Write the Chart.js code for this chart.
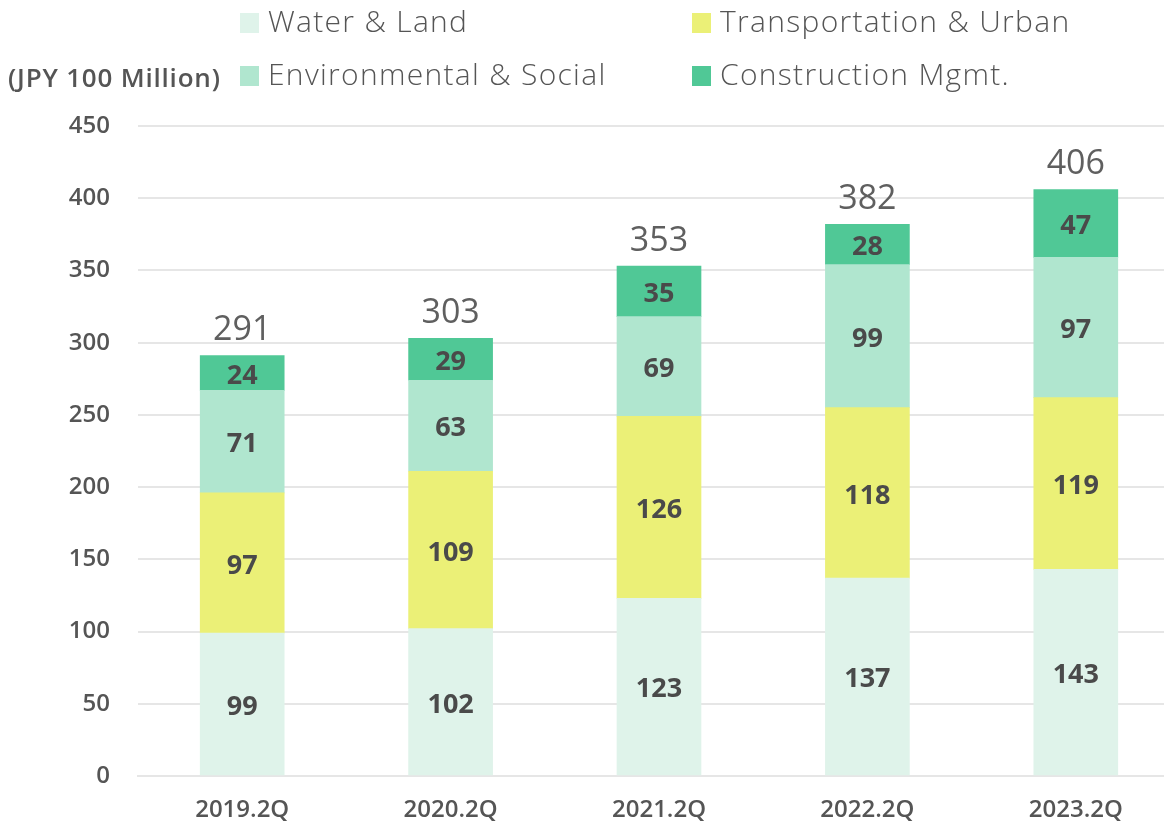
<!DOCTYPE html>
<html>
<head>
<meta charset="utf-8">
<script src="https://cdn.jsdelivr.net/npm/chart.js@4/dist/chart.umd.min.js"></script>
<style>
  html, body { margin: 0; padding: 0; background: #fff; overflow: hidden; }
  #wrap { width: 1180px; height: 824px; }
</style>
</head>
<body>
<div id="wrap"><canvas id="myChart"></canvas></div>
<script>
var periods = ["2019.2Q", "2020.2Q", "2021.2Q", "2022.2Q", "2023.2Q"];
var waterLand = [99, 102, 123, 137, 143];
var transportUrban = [97, 109, 126, 118, 119];
var envSocial = [71, 63, 69, 99, 97];
var constructionMgmt = [24, 29, 35, 28, 47];
var totals = [291, 303, 353, 382, 406];
var yTicks = [0, 50, 100, 150, 200, 250, 300, 350, 400, 450];

var textColor = "#555555";
var fontFamily = "'Open Sans', 'Noto Sans', sans-serif";

// draws the 2x2 legend, unit label, values inside segments and totals on top
var decorPlugin = {
    id: "decor",
    afterDatasetsDraw: function (chart) {
        var ctx = chart.ctx;
        ctx.save();

        // segment values
        ctx.textAlign = "center";
        ctx.textBaseline = "middle";
        ctx.fillStyle = "#4a4a4a";
        ctx.font = "700 27px " + fontFamily;
        chart.data.datasets.forEach(function (ds, i) {
            var meta = chart.getDatasetMeta(i);
            meta.data.forEach(function (bar, j) {
                var mid = (bar.y + bar.base) / 2;
                ctx.fillText(ds.data[j], bar.x, mid + 3);
            });
        });

        // totals
        var topMeta = chart.getDatasetMeta(chart.data.datasets.length - 1);
        ctx.fillStyle = "#5f5f5f";
        ctx.font = "400 34px " + fontFamily;
        topMeta.data.forEach(function (bar, j) {
            ctx.fillText(totals[j], bar.x, bar.y - 25);
        });

        // unit label
        ctx.textAlign = "left";
        ctx.fillStyle = textColor;
        ctx.font = "600 26px " + fontFamily;
        ctx.letterSpacing = "0.8px";
        ctx.fillText("(JPY 100 Million)", 8, 80);

        // legend
        var cols = [240, 692];
        var rows = [23, 76];
        ctx.font = "300 30px " + fontFamily;
        ctx.letterSpacing = "1.3px";
        chart.data.datasets.forEach(function (ds, k) {
            var x = cols[k % 2];
            var y = rows[Math.floor(k / 2)];
            ctx.fillStyle = ds.backgroundColor;
            ctx.fillRect(x, y - 10, 19, 20);
            ctx.fillStyle = textColor;
            ctx.fillText(ds.label, x + 28, y);
        });

        ctx.restore();
    }
};

var ctx = document.getElementById("myChart").getContext("2d");

var data = {
    labels: periods,
    datasets: [
        { label: "Water & Land", data: waterLand, backgroundColor: "#dff3ea" },
        { label: "Transportation & Urban", data: transportUrban, backgroundColor: "#ebf077" },
        { label: "Environmental & Social", data: envSocial, backgroundColor: "#b0e6cf" },
        { label: "Construction Mgmt.", data: constructionMgmt, backgroundColor: "#50c896" }
    ]
};

var myBarChart = new Chart(ctx, {
    type: "bar",
    data: data,
    plugins: [decorPlugin],
    options: {
        responsive: true,
        maintainAspectRatio: false,
        animation: false,
        layout: { padding: { top: 126, left: 0, right: 0, bottom: 0 } },
        datasets: {
            bar: { barThickness: 84, borderWidth: 0 }
        },
        plugins: {
            legend: { display: false },
            tooltip: { enabled: false }
        },
        scales: {
            x: {
                stacked: true,
                grid: { display: false, drawTicks: false },
                border: { display: true, color: "#e6e6e6", width: 2 },
                ticks: {
                    color: textColor,
                    padding: 20,
                    font: { family: fontFamily, size: 24, weight: "600" }
                },
                afterFit: function (s) { s.height = 48; }
            },
            y: {
                stacked: true,
                min: 0,
                max: 450,
                afterBuildTicks: function (s) {
                    s.ticks = yTicks.map(function (v) { return { value: v }; });
                },
                grid: { color: "#e6e6e6", lineWidth: 2, drawTicks: false },
                border: { display: false },
                ticks: {
                    color: textColor,
                    padding: 28,
                    font: { family: fontFamily, size: 24, weight: "600" }
                },
                afterFit: function (s) { s.width = 138; }
            }
        }
    }
});
</script>
</body>
</html>
